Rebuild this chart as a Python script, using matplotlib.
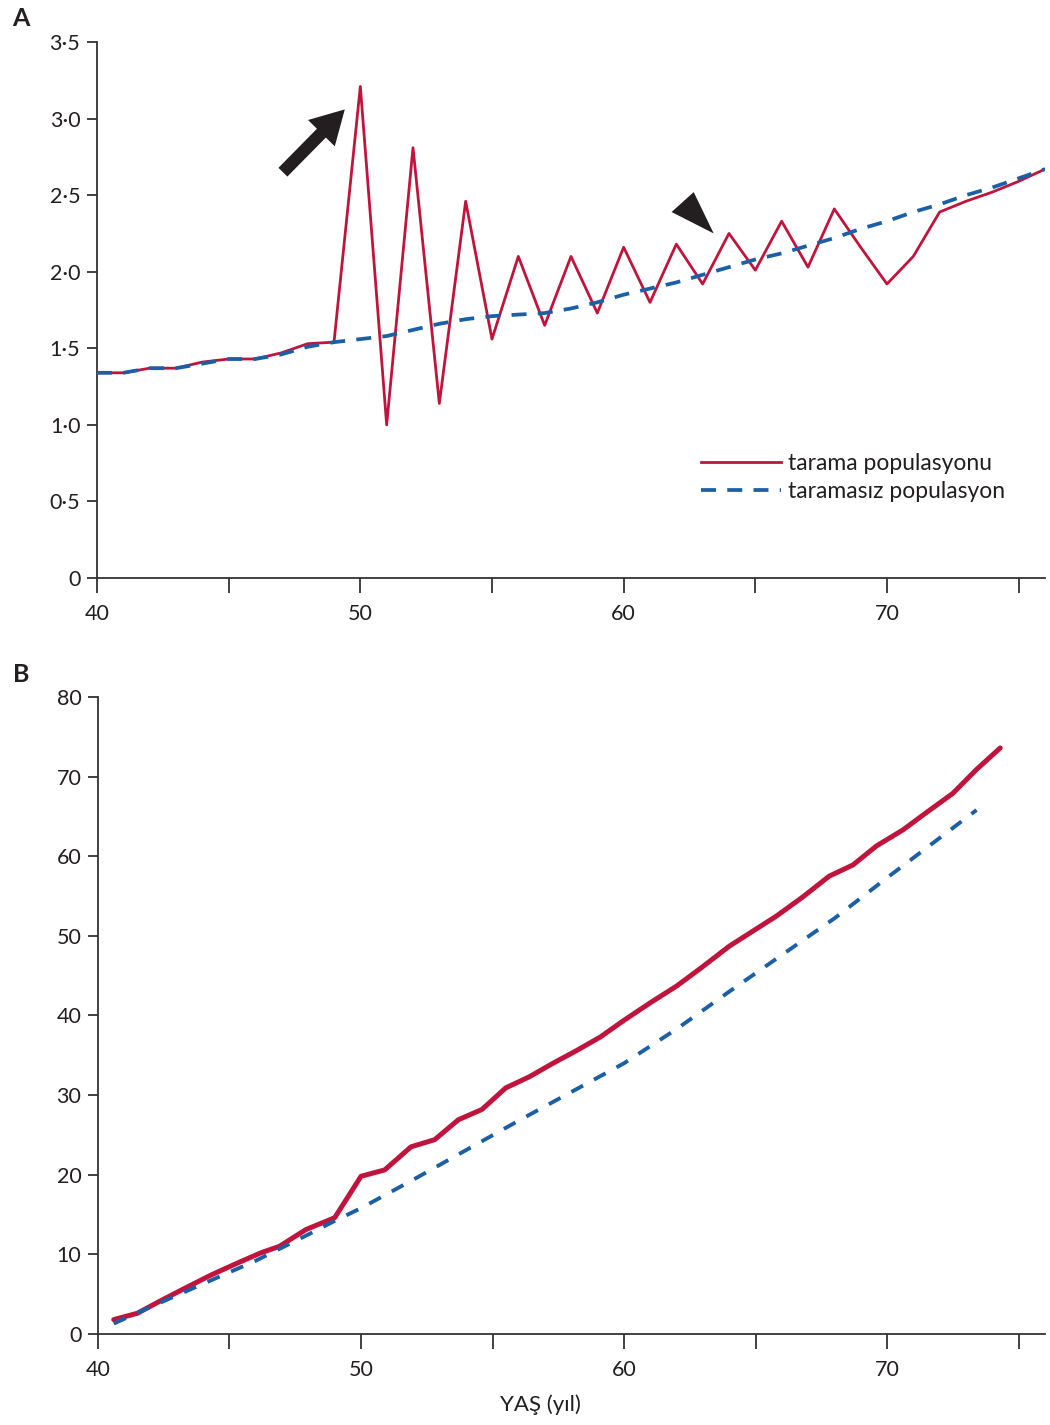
import matplotlib
matplotlib.use("Agg")
import matplotlib.pyplot as plt
from matplotlib.patches import Polygon

plt.rcParams['font.family'] = ['Lato', 'DejaVu Sans']

# Panel A: yearly rate
ages_a = list(range(40, 77))
tarama_a = [1.34, 1.34, 1.37, 1.37, 1.41, 1.43, 1.43, 1.47, 1.53, 1.54,
            3.21, 1.00, 2.81, 1.14, 2.46, 1.56, 2.10, 1.65, 2.10, 1.73,
            2.16, 1.80, 2.18, 1.92, 2.25, 2.01, 2.33, 2.03, 2.41, 2.16,
            1.92, 2.10, 2.39, 2.46, 2.52, 2.59, 2.67]
taramasiz_a = [1.34, 1.34, 1.37, 1.37, 1.40, 1.43, 1.43, 1.46, 1.51, 1.54,
               1.56, 1.58, 1.62, 1.66, 1.69, 1.71, 1.72, 1.73, 1.76, 1.80,
               1.85, 1.89, 1.93, 1.98, 2.03, 2.08, 2.12, 2.17, 2.22, 2.28,
               2.33, 2.39, 2.44, 2.50, 2.55, 2.61, 2.67]
yticks_a = [0, 0.5, 1.0, 1.5, 2.0, 2.5, 3.0, 3.5]
ylabels_a = ['0', '0·5', '1·0', '1·5', '2·0', '2·5', '3·0', '3·5']

# Panel B: cumulative
ages_b_red = [40.6, 41.5, 42.4, 43.4, 44.3, 45.3, 46.2, 46.9, 47.9, 49.0,
              50.0, 50.9, 51.9, 52.8, 53.7, 54.6, 55.5, 56.4, 57.3, 58.2,
              59.1, 60.0, 61.0, 62.0, 62.9, 64.0, 64.9, 65.8, 66.8, 67.8,
              68.7, 69.6, 70.6, 71.5, 72.5, 73.4, 74.3]
tarama_b = [1.8, 2.6, 4.2, 5.9, 7.4, 8.9, 10.2, 11.0, 13.1, 14.6,
            19.8, 20.6, 23.5, 24.4, 26.9, 28.2, 30.9, 32.3, 34.0, 35.6,
            37.3, 39.4, 41.6, 43.7, 45.9, 48.7, 50.6, 52.5, 54.9, 57.5,
            58.9, 61.3, 63.3, 65.5, 67.9, 70.9, 73.6]
ages_b_blue = [40.6, 42, 44, 46, 48, 49, 50, 51, 52, 54, 56, 58, 60, 62,
               64, 66, 68, 70, 72, 73.4]
taramasiz_b = [1.3, 3.4, 6.3, 9.2, 12.5, 14.2, 15.8, 17.6, 19.4, 23.1, 26.8,
               30.4, 34.0, 38.3, 43.0, 47.6, 52.2, 57.3, 62.3, 65.8]

RED = '#c0143c'
BLUE = '#1b5fa6'
INK = '#231f20'

fig = plt.figure(figsize=(10.5, 14.25), dpi=100)
ax_a = fig.add_axes([0.0924, 0.5944, 0.9028, 0.3761])
ax_b = fig.add_axes([0.0933, 0.0639, 0.9019, 0.4470])

ax_a.plot(ages_a, tarama_a, color=RED, lw=2.0, label='tarama populasyonu',
          zorder=3)
ax_a.plot(ages_a, taramasiz_a, color=BLUE, lw=2.7, dashes=(4, 3.0),
          label='taramasız populasyon', zorder=4)

ax_b.plot(ages_b_red, tarama_b, color=RED, lw=3.6, solid_capstyle='round',
          zorder=3)
ax_b.plot(ages_b_blue, taramasiz_b, color=BLUE, lw=2.8, dashes=(3.4, 3.2),
          zorder=4)

# arrow and arrowhead pointing at screening peaks
ax_a.annotate('', xy=(49.41, 3.06), xytext=(47.06, 2.65),
              arrowprops=dict(width=9, headwidth=27, headlength=24,
                              facecolor=INK, edgecolor='none', shrink=0))
ax_a.add_patch(Polygon([(61.82, 2.39), (62.66, 2.52), (63.42, 2.25)],
                       closed=True, facecolor=INK, edgecolor='none'))

for ax in (ax_a, ax_b):
    ax.set_xlim(40, 76)
    for s in ('top', 'right'):
        ax.spines[s].set_visible(False)
    for s in ('left', 'bottom'):
        ax.spines[s].set_color('#333333')
        ax.spines[s].set_linewidth(1.3)
    ax.set_xticks([40, 50, 60, 70])
    ax.set_xticks([45, 55, 65, 75], minor=True)
    ax.tick_params(axis='x', which='both', length=11, width=1.3,
                   color='#333333', pad=8, labelsize=15.5, labelcolor=INK)
    ax.tick_params(axis='y', length=7, width=1.3, color='#333333', pad=5,
                   labelsize=15.5, labelcolor=INK)

ax_a.set_ylim(0, 3.5)
ax_a.set_yticks(yticks_a)
ax_a.set_yticklabels(ylabels_a)

ax_b.set_ylim(0, 80)
ax_b.set_yticks(range(0, 81, 10))

leg = ax_a.legend(loc='upper left', bbox_to_anchor=(0.627, 0.25),
                  frameon=False, fontsize=16.5, handlelength=3.5,
                  handletextpad=0.3, labelspacing=0.3, borderaxespad=0)
for t in leg.get_texts():
    t.set_color(INK)

fig.text(0.012, 0.987, 'A', fontsize=18, fontweight='bold', color=INK,
         ha='left', va='center')
fig.text(0.012, 0.527, 'B', fontsize=18, fontweight='bold', color=INK,
         ha='left', va='center')
fig.text(0.515, 0.014, 'YAŞ (yıl)', fontsize=16, color=INK,
         ha='center', va='center')

fig.savefig('out.png', dpi=100)
